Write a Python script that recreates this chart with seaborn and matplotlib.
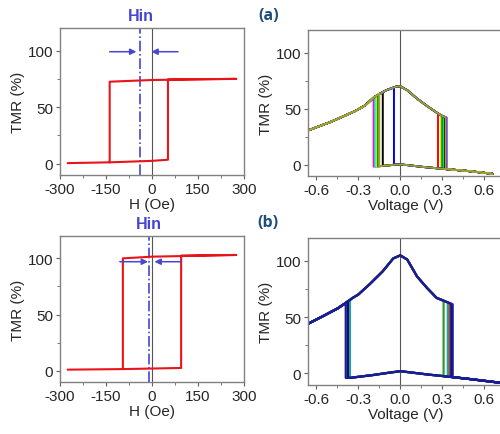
import numpy as np
import pandas as pd
import matplotlib
matplotlib.use('Agg')
import matplotlib.pyplot as plt
import seaborn as sns

# ---- field sweeps (Oe, TMR %), traced in sweep order ----
a_field_h = [-275, -138, 0, 52, 52, 275, 0, -138, -138]
a_field_tmr = [0.5, 1.2, 2.5, 3.5, 74.5, 75, 74, 72.5, 1.2]
b_field_h = [-275, -95, 0, 95, 95, 275, 0, -95, -95]
b_field_tmr = [1, 1.5, 2, 2.5, 102.5, 103, 101.5, 100, 1.5]

# Hin marker and arrows (Oe)
a_hin = -40
a_arrow_from = [-138, 85]
a_arrow_to = [-51, -2]
a_arrow_y = 99
b_hin = -10
b_arrow_from = [-105, 96]
b_arrow_to = [-13, 8]
b_arrow_y = 97

# ---- voltage sweeps (V, TMR %) ----
a_hi_v = [-0.66, -0.5, -0.4, -0.32, -0.25, -0.185, -0.1, -0.03, 0.0, 0.05, 0.12, 0.19, 0.26, 0.30, 0.34]
a_hi_t = [30.5, 38, 43.5, 48, 53, 60.5, 66.5, 69.7, 70, 66.5, 59, 52.5, 46.5, 43.5, 41.5]
a_lo_v = [-0.2, -0.1, -0.03, 0.0, 0.05, 0.15, 0.3, 0.5, 0.66]
a_lo_t = [-2, -1, 0, 0, -0.5, -2, -3.8, -6, -8.3]

a_colors = ['#ff0000', '#ff00ff', '#00e0e0', '#e8e800', '#00a000', '#000000', '#0000ff', '#a0a030']
a_vneg = [-0.17, -0.19, -0.18, -0.17, -0.16, -0.125, -0.045, -0.15]
a_neg_top = [61.6, 60, 60.9, 61.6, 62.3, 64.7, 68.8, 63]
a_neg_bot = [-1.7, -1.9, -1.8, -1.7, -1.6, -1.25, -0.2, -1.5]
a_vpos = [0.27, 0.33, 0.31, 0.29, 0.30, 0.32, 0.33, 0.325]
a_pos_top = [45.7, 42, 43, 44.2, 43.5, 42.5, 42, 42.2]
a_pos_bot = [-3.4, -4.1, -3.9, -3.7, -3.8, -4, -4.1, -4]

b_hi_v = [-0.7, -0.55, -0.45, -0.39, -0.34, -0.3, -0.22, -0.126, -0.05, 0.0, 0.05, 0.12, 0.19, 0.26, 0.33, 0.39]
b_hi_t = [41.5, 51, 57.5, 62.5, 67, 70, 79, 90.5, 102, 104.7, 101, 86, 76, 67, 63.5, 60.5]
b_lo_v = [-0.4, -0.35, -0.3, -0.2, -0.1, 0.0, 0.1, 0.2, 0.31, 0.5, 0.75]
b_lo_t = [-4, -3.8, -3, -1.5, 0.3, 2, 0.5, -1, -2.4, -5, -8.8]

b_colors = ['#d03020', '#2e9a2e', '#20a0a0', '#0a0a70', '#1c1c96']
b_vneg = [-0.37, -0.365, -0.36, -0.375, -0.39]
b_neg_top = [64.3, 64.75, 65.2, 63.85, 62.5]
b_neg_bot = [-3.9, -3.85, -3.84, -3.9, -4]
b_vpos = [0.35, 0.31, 0.34, 0.365, 0.375]
b_pos_top = [62.5, 64.5, 63, 61.75, 61.25]
b_pos_bot = [-2.9, -2.4, -2.8, -3.1, -3.3]

HIN_COLOR = '#4646d2'
LOOP_RED = '#e8141c'


def volt_loop(hi_v, hi_t, lo_v, lo_t, vneg, neg_top, neg_bot, vpos, pos_top, pos_bot):
    hv, ht = np.array(hi_v), np.array(hi_t)
    lv, lt = np.array(lo_v), np.array(lo_t)
    m = hv < vpos
    x = list(hv[m]) + [vpos, vpos]
    y = list(ht[m]) + [pos_top, pos_bot]
    m = lv > vpos
    x += list(lv[m]); y += list(lt[m])
    m = lv > vneg
    x += list(lv[m][::-1]) + [vneg, vneg]
    y += list(lt[m][::-1]) + [neg_bot, neg_top]
    m = hv < vneg
    x += list(hv[m][::-1]); y += list(ht[m][::-1])
    return pd.DataFrame({'V': x, 'TMR': y})


def style_axes(ax, xlim, xticks, xminor):
    ax.set_xlim(*xlim)
    ax.set_ylim(-10, 120)
    ax.set_xticks(xticks)
    ax.set_xticks(xminor, minor=True)
    ax.set_yticks([0, 50, 100])
    ax.set_yticks([25, 75], minor=True)
    for s in ax.spines.values():
        s.set_visible(True)
        s.set_color('#808080')
        s.set_linewidth(1.0)
    ax.tick_params(which='major', direction='out', length=3, width=0.8, color='#606060', labelsize=11, pad=2)
    ax.tick_params(which='minor', direction='out', length=2, width=0.6, color='#606060')
    ax.axvline(0, color='#555555', lw=0.8, zorder=0)
    ax.set_ylabel('TMR (%)', fontsize=11, labelpad=2)


def field_panel(ax, h, tmr, hin, a_from, a_to, ay):
    df = pd.DataFrame({'H': h, 'TMR': tmr})
    ax.axvline(hin, color=HIN_COLOR, lw=1.2, ls='-.', zorder=1)
    sns.lineplot(data=df, x='H', y='TMR', sort=False, estimator=None, color=LOOP_RED, lw=1.5, ax=ax)
    for x0, x1 in zip(a_from, a_to):
        ax.annotate('', xy=(x1, ay), xytext=(x0, ay),
                    arrowprops=dict(arrowstyle='-|>', color=HIN_COLOR, lw=1.1, mutation_scale=9,
                                    shrinkA=0, shrinkB=0))
    style_axes(ax, (-300, 300), [-300, -150, 0, 150, 300], [-225, -75, 75, 225])
    ax.set_xticklabels(['-300', '-150', '0', '150', '300'])
    ax.set_xlabel('H (Oe)', fontsize=11, labelpad=1)


def volt_panel(ax, hi_v, hi_t, lo_v, lo_t, colors, vneg, ntop, nbot, vpos, ptop, pbot, lw):
    for i, c in enumerate(colors):
        df = volt_loop(hi_v, hi_t, lo_v, lo_t, vneg[i], ntop[i], nbot[i], vpos[i], ptop[i], pbot[i])
        sns.lineplot(data=df, x='V', y='TMR', sort=False, estimator=None, color=c, lw=lw, ax=ax)
    style_axes(ax, (-0.66, 0.735), [-0.6, -0.3, 0.0, 0.3, 0.6], [-0.45, -0.15, 0.15, 0.45])
    ax.set_xticklabels(['-0.6', '-0.3', '0.0', '0.3', '0.6'])
    ax.set_xlabel('Voltage (V)', fontsize=11, labelpad=1)


sns.set_style('ticks')
plt.rcParams['font.family'] = ['Liberation Sans', 'DejaVu Sans']

fig = plt.figure(figsize=(5, 4.35), dpi=100)
ax_tl = fig.add_axes([0.12, 0.5954, 0.368, 0.338])
ax_tr = fig.add_axes([0.616, 0.5938, 0.39, 0.334])
ax_bl = fig.add_axes([0.12, 0.1195, 0.368, 0.336])
ax_br = fig.add_axes([0.616, 0.1133, 0.39, 0.337])

field_panel(ax_tl, a_field_h, a_field_tmr, a_hin, a_arrow_from, a_arrow_to, a_arrow_y)
field_panel(ax_bl, b_field_h, b_field_tmr, b_hin, b_arrow_from, b_arrow_to, b_arrow_y)
volt_panel(ax_tr, a_hi_v, a_hi_t, a_lo_v, a_lo_t, a_colors, a_vneg, a_neg_top, a_neg_bot,
           a_vpos, a_pos_top, a_pos_bot, 1.4)
volt_panel(ax_br, b_hi_v, b_hi_t, b_lo_v, b_lo_t, b_colors, b_vneg, b_neg_top, b_neg_bot,
           b_vpos, b_pos_top, b_pos_bot, 1.6)

fig.text(0.282, 0.961, 'Hin', color=HIN_COLOR, fontsize=11.5, fontweight='bold', ha='center', va='center')
fig.text(0.298, 0.483, 'Hin', color=HIN_COLOR, fontsize=11.5, fontweight='bold', ha='center', va='center')
fig.text(0.538, 0.963, '(a)', color='#1f4e79', fontsize=11.5, fontweight='bold', ha='center', va='center',
         family=['Open Sans', 'DejaVu Sans'])
fig.text(0.536, 0.487, '(b)', color='#1f4e79', fontsize=11.5, fontweight='bold', ha='center', va='center',
         family=['Open Sans', 'DejaVu Sans'])

fig.savefig('out.png', dpi=100)
